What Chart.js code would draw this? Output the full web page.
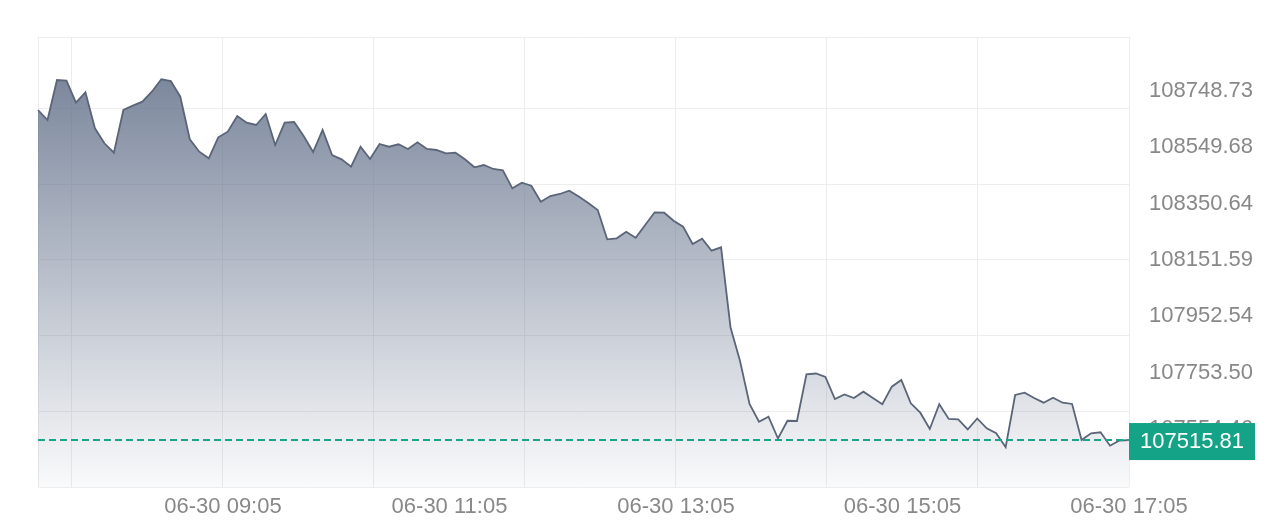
<!DOCTYPE html>
<html lang="ja">
<head>
<meta charset="UTF-8">
<title>06-30 price</title>
<script src="https://cdn.jsdelivr.net/npm/chart.js@4.4.1/dist/chart.umd.min.js"></script>
<style>
  html, body { margin: 0; padding: 0; background: #fff; }
  #wrap { width: 1280px; height: 529px; position: relative; }
</style>
</head>
<body>
<div id="wrap"><canvas id="myChart"></canvas></div>
<script>
// price samples (about every 5 min), 06-30 07:27 -> 17:05
const prices = [
    108680.6, 108645.3, 108786.5, 108784.0, 108706.4, 108743.1, 108616.0, 108563.1, 108529.9, 108680.6,
    108695.8, 108709.9, 108745.2, 108789.0, 108783.0, 108727.6, 108577.2, 108533.5, 108510.2, 108584.3,
    108604.0, 108659.5, 108635.8, 108627.7, 108666.5, 108557.1, 108635.8, 108638.3, 108588.9, 108532.4,
    108610.0, 108521.8, 108506.6, 108480.5, 108551.1, 108507.7, 108560.6, 108551.1, 108559.6, 108543.0,
    108566.6, 108543.0, 108539.5, 108527.8, 108529.9, 108506.6, 108478.4, 108486.5, 108472.4, 108467.8,
    108404.3, 108424.1, 108413.5, 108357.0, 108377.1, 108384.2, 108395.8, 108375.4, 108352.4, 108327.7,
    108224.3, 108227.9, 108251.1, 108230.0, 108274.8, 108319.6, 108318.2, 108290.0, 108268.8, 108207.7,
    108226.4, 108184.1, 108196.1, 107913.1, 107794.8, 107643.1, 107580.6, 107598.3, 107521.3, 107583.8,
    107583.1, 107747.9, 107750.7, 107738.4, 107660.7, 107676.6, 107664.3, 107686.5, 107664.3, 107642.0,
    107704.2, 107727.8, 107645.6, 107612.4, 107554.9, 107642.0, 107590.2, 107589.1, 107553.1, 107591.9,
    107557.3, 107539.7, 107490.3, 107674.9, 107683.0, 107664.3, 107647.7, 107665.3, 107647.7, 107643.1,
    107516.1, 107539.7, 107543.2, 107495.9, 107514.3, 107515.81
];
const lastPrice = 107515.81;

// time axis, minutes since midnight
const timeMin = 447;   // 07:27
const timeMax = 1025;  // 17:05
const timeLabelMinutes = [545, 665, 785, 905, 1025];
const timeLabels = ['06-30 09:05', '06-30 11:05', '06-30 13:05', '06-30 15:05', '06-30 17:05'];
const timeGridMinutes = [447, 465, 545, 625, 705, 785, 865, 945, 1025];

// price axis
const priceMin = 107350.11;
const priceMax = 108938.25;
const priceTicks = [107554.46, 107753.50, 107952.54, 108151.59, 108350.64, 108549.68, 108748.73];
const priceGrid = [107350.11, 107617.41, 107884.71, 108152.01, 108419.31, 108686.61, 108938.25];

document.addEventListener('DOMContentLoaded', () => {
    Chart.defaults.font.family = '"Liberation Sans", Arial, sans-serif';

    const gridColor = '#ededed';
    const labelColor = '#888888';

    // dashed line + tag for the latest price
    const lastPricePlugin = {
        id: 'lastPrice',
        afterDatasetsDraw(chart) {
            const { ctx, chartArea, scales } = chart;
            const y = scales.y.getPixelForValue(lastPrice);
            ctx.save();
            ctx.strokeStyle = '#1aa58a';
            ctx.lineWidth = 2;
            ctx.setLineDash([7, 4]);
            ctx.beginPath();
            ctx.moveTo(chartArea.left, y);
            ctx.lineTo(chartArea.right, y);
            ctx.stroke();
            ctx.setLineDash([]);
            ctx.fillStyle = '#14a386';
            ctx.fillRect(chartArea.right, y - 17, 126, 37);
            ctx.fillStyle = '#ffffff';
            ctx.font = '22px "Liberation Sans", Arial, sans-serif';
            ctx.textAlign = 'center';
            ctx.textBaseline = 'middle';
            ctx.fillText(lastPrice.toFixed(2), chartArea.right + 63, y + 2);
            ctx.restore();
        }
    };

    const ctx = document.getElementById('myChart').getContext('2d');

    const config = {
        type: 'line',
        data: {
            labels: prices.map((_, i) => i),
            datasets: [{
                data: prices,
                borderColor: '#5b6578',
                borderWidth: 1.8,
                pointRadius: 0,
                tension: 0,
                fill: 'start',
                backgroundColor: (context) => {
                    const { chart } = context;
                    const area = chart.chartArea;
                    if (!area) return 'rgba(96,110,136,0.4)';
                    const g = chart.ctx.createLinearGradient(0, area.top, 0, area.bottom);
                    g.addColorStop(0, 'rgba(96,110,136,0.9)');
                    g.addColorStop(1, 'rgba(96,110,136,0.03)');
                    return g;
                }
            }]
        },
        options: {
            responsive: true,
            maintainAspectRatio: false,
            animation: false,
            layout: { padding: { left: 38, top: 37, right: 0, bottom: 0 } },
            plugins: {
                legend: { display: false },
                tooltip: { enabled: false }
            },
            scales: {
                x: { type: 'category', display: false },
                xTime: {
                    type: 'linear',
                    position: 'bottom',
                    min: timeMin,
                    max: timeMax,
                    afterBuildTicks: (axis) => {
                        const vals = [...new Set([...timeGridMinutes, ...timeLabelMinutes])].sort((a, b) => a - b);
                        axis.ticks = vals.map(v => ({ value: v }));
                    },
                    afterFit: (axis) => { axis.height = 42; },
                    border: { display: false },
                    grid: {
                        drawTicks: false,
                        color: (c) => (c.tick && timeGridMinutes.includes(c.tick.value)) ? gridColor : 'rgba(0,0,0,0)'
                    },
                    ticks: {
                        autoSkip: false,
                        maxRotation: 0,
                        padding: 7,
                        color: labelColor,
                        font: { size: 22 },
                        callback: (value) => {
                            const k = timeLabelMinutes.indexOf(value);
                            return k >= 0 ? timeLabels[k] : '';
                        }
                    }
                },
                y: {
                    type: 'linear',
                    position: 'right',
                    min: priceMin,
                    max: priceMax,
                    afterBuildTicks: (axis) => {
                        axis.ticks = priceTicks.map(v => ({ value: v }));
                    },
                    afterFit: (axis) => { axis.width = 151; },
                    border: { display: false },
                    grid: { display: false },
                    ticks: {
                        padding: 12,
                        color: labelColor,
                        font: { size: 22 },
                        callback: (value) => Number(value).toFixed(2)
                    }
                },
                yGrid: {
                    type: 'linear',
                    position: 'right',
                    min: priceMin,
                    max: priceMax,
                    afterBuildTicks: (axis) => {
                        axis.ticks = priceGrid.map(v => ({ value: v }));
                    },
                    afterFit: (axis) => { axis.width = 0; },
                    border: { display: false },
                    grid: { color: gridColor, drawTicks: false },
                    ticks: { display: false }
                }
            }
        },
        plugins: [lastPricePlugin]
    };

    new Chart(ctx, config);
});
</script>
</body>
</html>
